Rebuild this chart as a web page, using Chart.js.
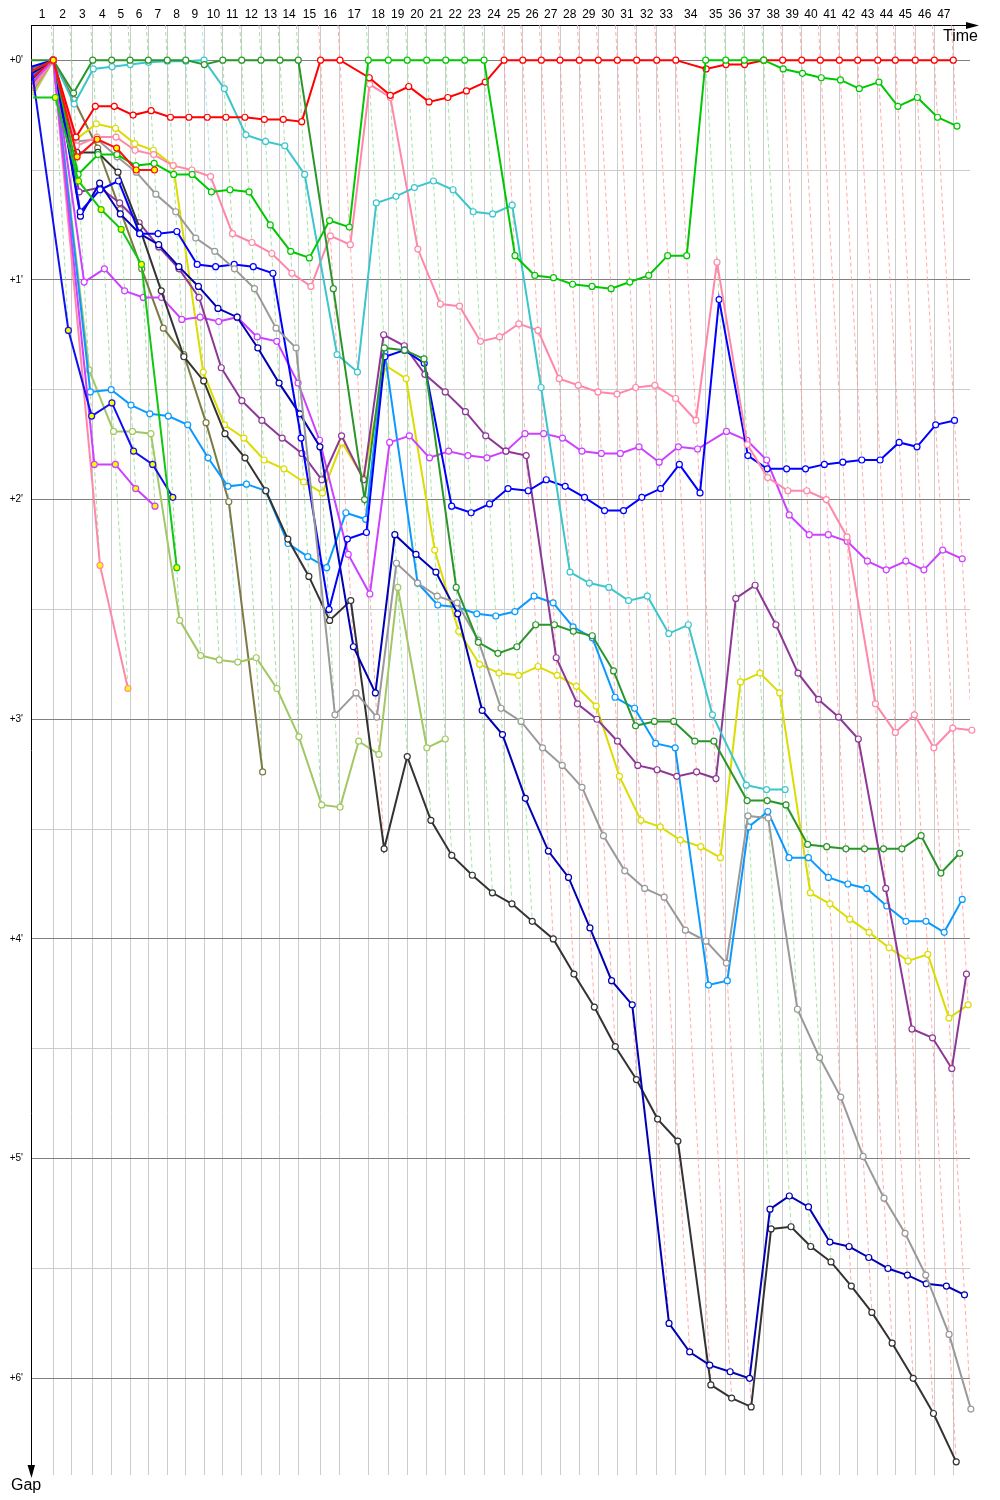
<!DOCTYPE html>
<html>
<head>
<meta charset="utf-8">
<script src="https://cdn.jsdelivr.net/npm/chart.js@4.4.1/dist/chart.umd.min.js"></script>
<style>
  html, body { margin: 0; padding: 0; background: #fff; }
  canvas { display: block; }
</style>
</head>
<body>
<canvas id="gap-chart" width="1000" height="1500"></canvas>
<script>
// ── DATA ──
// leader race time (min) at the end of each lap, index 0 = start
const lapEnds = [0, 1.81, 3.31, 5.02, 6.56, 8.05, 9.54, 11.08, 12.58, 14.07, 15.59, 17.13, 18.70, 20.24, 21.73,
  23.54, 25.12, 27.42, 29.05, 30.59, 32.17, 33.72, 35.26, 36.83, 38.46, 39.98, 41.49, 43.01, 44.58, 46.12,
  47.67, 49.24, 50.87, 52.42, 54.85, 56.48, 57.99, 59.57, 61.11, 62.66, 64.17, 65.72, 67.21, 68.84, 70.27,
  71.89, 73.44, 74.98]

// gap ticks (min), whole minutes get a label
const yTicks = [0, 0.5, 1, 1.5, 2, 2.5, 3, 3.5, 4, 4.5, 5, 5.5, 6]

// gap to leader (min) per lap, index = lap
const gapDarkGreen = [0, 0, 0.15, 0, 0, 0, 0, 0, 0, 0.02, 0, 0, 0, 0, 0, 1.04, 2.0, 1.31, 1.32, 1.36,
  2.4, 2.65, 2.70, 2.67, 2.57, 2.57, 2.6, 2.62, 2.78, 3.03, 3.01, 3.01, 3.10, 3.10, 3.37, 3.37, 3.39,
  3.57, 3.58, 3.59, 3.59, 3.59, 3.59, 3.53, 3.70, 3.61]
const gapGreen = [0.05, 0, 0.52, 0.43, 0.43, 0.48, 0.47, 0.52, 0.52, 0.60, 0.59, 0.60, 0.75, 0.87, 0.90,
  0.73, 0.76, 0, 0, 0, 0, 0, 0, 0, 0.89, 0.98, 0.99, 1.02, 1.03, 1.04, 1.01, 0.98, 0.89, 0.89, 0, 0, 0, 0,
  0.04, 0.06, 0.08, 0.09, 0.13, 0.10, 0.21, 0.17, 0.26, 0.30]
const gapRed = [0.08, 0, 0.35, 0.21, 0.21, 0.25, 0.23, 0.26, 0.26, 0.26, 0.26, 0.26, 0.27, 0.27, 0.28,
  0, 0, 0.08, 0.16, 0.12, 0.19, 0.17, 0.14, 0.10, 0, 0, 0, 0, 0, 0, 0, 0, 0, 0, 0.04, 0.02, 0.02,
  0, 0, 0, 0, 0, 0, 0, 0, 0, 0, 0]
const gapCyan = [0.10, 0, 0.20, 0.04, 0.03, 0.02, 0.01, 0.005, 0.005, 0, 0.13, 0.34, 0.37, 0.39, 0.52,
  1.34, 1.42, 0.65, 0.62, 0.58, 0.55, 0.59, 0.69, 0.70, 0.66, 1.49, 2.33, 2.38, 2.40, 2.46, 2.44, 2.61,
  2.57, 2.98, 3.30, 3.32, 3.32]
const gapPink = [0.12, 0, 0.39, 0.35, 0.35, 0.41, 0.43, 0.48, 0.50, 0.53, 0.79, 0.83, 0.88, 0.97, 1.03,
  0.80, 0.84, 0.11, 0.17, 0.86, 1.11, 1.12, 1.28, 1.26, 1.20, 1.23, 1.45, 1.48, 1.51, 1.52, 1.49, 1.48,
  1.54, 1.64, 0.92, 1.75, 1.90, 1.96, 1.96, 2.0, 2.17, 2.93, 3.06, 2.98, 3.13, 3.04, 3.05]
const gapGray = [0.14, 0, 0.37, 0.36, 0.44, 0.51, 0.61, 0.69, 0.81, 0.87, 0.95, 1.04, 1.22, 1.31, 2.98,
  2.88, 2.99, 2.29, 2.38, 2.44, 2.47, 2.64, 2.95, 3.01, 3.13, 3.21, 3.31, 3.53, 3.69, 3.77, 3.81, 3.96,
  4.01, 4.11, 3.44, 3.45, 4.32, 4.54, 4.72, 4.99, 5.18, 5.34, 5.53, 5.80, 6.14]
const gapBlue = [0.03, 0, 0.69, 0.59, 0.55, 0.79, 0.79, 0.78, 0.93, 0.94, 0.93, 0.94, 0.97, 1.72, 2.50,
  2.18, 2.15, 1.35, 1.32, 1.38, 2.03, 2.06, 2.02, 1.95, 1.96, 1.91, 1.94, 1.99, 2.05, 2.05, 1.99, 1.95,
  1.84, 1.97, 1.09, 1.80, 1.86, 1.86, 1.86, 1.84, 1.83, 1.82, 1.82, 1.74, 1.76, 1.66, 1.64]
const gapNavy = [0.06, 0, 0.71, 0.56, 0.70, 0.79, 0.84, 0.94, 1.03, 1.13, 1.17, 1.31, 1.47, 1.61, 1.76,
  2.67, 2.88, 2.16, 2.25, 2.33, 2.52, 2.96, 3.07, 3.36, 3.60, 3.72, 3.95, 4.19, 4.30, 5.75, 5.88, 5.94,
  5.97, 6.0, 5.23, 5.17, 5.22, 5.38, 5.40, 5.45, 5.50, 5.53, 5.57, 5.58, 5.62]
const gapBlack = [0.09, 0, 0.42, 0.42, 0.51, 0.76, 1.05, 1.35, 1.46, 1.70, 1.81, 1.96, 2.18, 2.35, 2.55,
  2.46, 3.59, 3.17, 3.46, 3.62, 3.71, 3.79, 3.84, 3.92, 4.0, 4.16, 4.31, 4.49, 4.64, 4.82, 4.92, 6.03,
  6.09, 6.13, 5.32, 5.31, 5.40, 5.47, 5.58, 5.70, 5.84, 6.0, 6.16, 6.38]
const gapPurple = [0.11, 0, 0.60, 0.58, 0.65, 0.74, 0.85, 0.95, 1.08, 1.40, 1.55, 1.64, 1.72, 1.79, 1.91,
  1.71, 1.91, 1.25, 1.30, 1.43, 1.51, 1.60, 1.71, 1.78, 1.80, 2.72, 2.93, 3.0, 3.10, 3.21, 3.23, 3.26,
  3.24, 3.27, 2.45, 2.39, 2.57, 2.79, 2.91, 2.99, 3.09, 3.77, 4.41, 4.45, 4.59, 4.16]
const gapViolet = [0.13, 0, 1.01, 0.95, 1.05, 1.08, 1.08, 1.18, 1.17, 1.19, 1.17, 1.26, 1.28, 1.47, 1.73,
  2.25, 2.43, 1.74, 1.71, 1.81, 1.78, 1.80, 1.81, 1.78, 1.70, 1.70, 1.72, 1.78, 1.79, 1.79, 1.76, 1.83,
  1.76, 1.77, 1.69, 1.73, 1.82, 2.07, 2.16, 2.16, 2.19, 2.28, 2.32, 2.28, 2.32, 2.23, 2.27]
const gapSky = [0.07, 0, 1.51, 1.50, 1.57, 1.61, 1.62, 1.66, 1.81, 1.94, 1.93, 1.96, 2.20, 2.26, 2.31,
  2.06, 2.09, 1.33, 2.38, 2.48, 2.49, 2.52, 2.53, 2.51, 2.44, 2.47, 2.58, 2.63, 2.90, 2.95, 3.11, 3.13,
  4.21, 4.19, 3.49, 3.42, 3.63, 3.63, 3.72, 3.75, 3.77, 3.85, 3.92, 3.92, 3.97, 3.82]
const gapYellow = [0.15, 0, 0.36, 0.29, 0.31, 0.38, 0.41, 0.48, 1.42, 1.66, 1.72, 1.82, 1.86, 1.92, 1.97,
  1.74, 1.90, 1.39, 1.45, 2.23, 2.60, 2.75, 2.79, 2.80, 2.76, 2.80, 2.85, 2.94, 3.26, 3.46, 3.49, 3.55,
  3.58, 3.63, 2.83, 2.79, 2.88, 3.79, 3.84, 3.91, 3.97, 4.04, 4.10, 4.07, 4.36, 4.30]
const gapLightOlive = [0.16, 0, 1.41, 1.69, 1.69, 1.70, 2.55, 2.71, 2.73, 2.74, 2.72, 2.86, 3.08, 3.39,
  3.40, 3.10, 3.16, 2.40, 3.13, 3.09]
const gapOlive = [0.04, 0, 0.18, 0.40, 0.68, 0.95, 1.22, 1.34, 1.65, 2.01, 3.24]
// cars that stopped early (yellow markers)
const gapLimeOut = [0.17, 0.17, 0.55, 0.68, 0.77, 0.93, 2.31]
const gapRedOut = [0.05, 0, 0.44, 0.36, 0.40, 0.50, 0.50]
const gapBlueOut = [0.03, 1.23, 1.62, 1.56, 1.78, 1.84, 1.99]
const gapVioletOut = [0.10, 0, 1.84, 1.84, 1.95, 2.03]
const gapPinkOut = [0.13, 0, 2.30, 2.86]

const series = [
  { gaps: gapDarkGreen, color: '#2a962a', lap: 'rgba(140,215,140,0.8)' },
  { gaps: gapGreen, color: '#00c800', lap: 'rgba(140,225,140,0.8)' },
  { gaps: gapRed, color: '#ff0000', lap: 'rgba(255,150,150,0.8)' },
  { gaps: gapCyan, color: '#3cc6cc', lap: 'rgba(150,225,240,0.8)' },
  { gaps: gapPink, color: '#ff88a8' },
  { gaps: gapGray, color: '#999999' },
  { gaps: gapBlue, color: '#0000ff' },
  { gaps: gapNavy, color: '#0000b4' },
  { gaps: gapBlack, color: '#333333' },
  { gaps: gapPurple, color: '#8e3896' },
  { gaps: gapViolet, color: '#cc40ff' },
  { gaps: gapSky, color: '#0a9aff' },
  { gaps: gapYellow, color: '#dcdc00' },
  { gaps: gapLightOlive, color: '#a2c864' },
  { gaps: gapOlive, color: '#7c7a44' },
  { gaps: gapLimeOut, color: '#10c810', out: true },
  { gaps: gapRedOut, color: '#ff1010', out: true },
  { gaps: gapBlueOut, color: '#1010f0', out: true },
  { gaps: gapVioletOut, color: '#cc40ff', out: true },
  { gaps: gapPinkOut, color: '#ff88a8', out: true }
]

// ── AXES RANGE ──
const Y_MIN = -0.16
const Y_MAX = 6.44
const X_MAX = 76.34

const lapMids = lapEnds.slice(1).map((t, i) => (lapEnds[i] + t) / 2)

// ── DATASETS ──
function carSets() {
  return series.map(s => ({
    data: s.gaps.map((g, n) => ({ x: lapEnds[n] + g, y: g })),
    borderColor: s.color,
    borderWidth: 2,
    // no marker on the start line (lap 0)
    pointRadius: s.gaps.map((g, n) => n === 0 ? 0 : 3),
    pointHoverRadius: 3,
    pointBorderWidth: 1.2,
    pointBorderColor: s.color,
    pointBackgroundColor: s.out ? '#ffff00' : '#ffffff',
    tension: 0,
    clip: { left: 0, top: 6, right: 6, bottom: 6 },
    order: s.out ? -1 : 0
  }))
}

// one dashed line per lap through every car's point on that lap, tinted after the leader
function lapSets() {
  const out = []
  for (let n = 1; n < lapEnds.length; n++) {
    let lead = null
    let gMax = 0
    series.forEach(s => {
      const g = s.gaps[n]
      if (g == null) return
      if (!lead || g < lead.gaps[n]) lead = s
      if (g > gMax) gMax = g
    })
    if (!lead) continue
    out.push({
      data: [{ x: lapEnds[n] + Y_MIN, y: Y_MIN }, { x: lapEnds[n] + gMax, y: gMax }],
      borderColor: lead.lap || 'rgba(200,200,200,0.8)',
      borderWidth: 1,
      borderDash: [4, 3],
      pointRadius: 0,
      order: 10
    })
  }
  return out
}

// ── ARROWS + AXIS NAMES ──
const axisDecor = {
  id: 'axisDecor',
  afterDraw(chart) {
    const { ctx, chartArea } = chart
    const top = chartArea.top
    const left = chartArea.left
    ctx.save()
    ctx.strokeStyle = '#000'
    ctx.fillStyle = '#000'
    ctx.lineWidth = 1
    ctx.beginPath()
    ctx.moveTo(chartArea.right, top + 0.5)
    ctx.lineTo(968, top + 0.5)
    ctx.stroke()
    ctx.beginPath()
    ctx.moveTo(966, top - 3)
    ctx.lineTo(979, top + 0.5)
    ctx.lineTo(966, top + 4)
    ctx.closePath()
    ctx.fill()
    ctx.beginPath()
    ctx.moveTo(left - 3.5, chartArea.bottom - 10)
    ctx.lineTo(left + 0.5, chartArea.bottom + 3)
    ctx.lineTo(left + 4, chartArea.bottom - 10)
    ctx.closePath()
    ctx.fill()
    ctx.font = '16px "Liberation Sans", Arial, sans-serif'
    ctx.textBaseline = 'alphabetic'
    ctx.textAlign = 'right'
    ctx.fillText('Time', 978, 41)
    ctx.textAlign = 'left'
    ctx.fillText('Gap', 11, 1490)
    ctx.restore()
  }
}

const whiteBg = {
  id: 'whiteBg',
  beforeDraw(chart) {
    const { ctx, width, height } = chart
    ctx.save()
    ctx.fillStyle = '#fff'
    ctx.fillRect(0, 0, width, height)
    ctx.restore()
  }
}

// ── CHART ──
new Chart(document.getElementById('gap-chart'), {
  type: 'line',
  data: { datasets: [...carSets(), ...lapSets()] },
  plugins: [whiteBg, axisDecor],
  options: {
    responsive: false,
    animation: false,
    layout: { padding: { left: 0, top: 0, right: 30, bottom: 25 } },
    plugins: { legend: { display: false }, tooltip: { enabled: false } },
    scales: {
      x: {
        type: 'linear',
        position: 'top',
        min: 0,
        max: X_MAX,
        afterBuildTicks: s => { s.ticks = lapMids.map(v => ({ value: v })) },
        afterFit: s => { s.height = 25 },
        grid: { display: false, drawTicks: false },
        border: { display: true, color: '#000', width: 1 },
        ticks: {
          autoSkip: false,
          maxRotation: 0,
          padding: 3,
          color: '#000',
          font: { family: 'Liberation Sans', size: 12 },
          callback: (v, i) => String(i + 1)
        }
      },
      xg: {
        type: 'linear',
        position: 'bottom',
        min: 0,
        max: X_MAX,
        afterBuildTicks: s => { s.ticks = lapEnds.slice(1).map(v => ({ value: v })) },
        afterFit: s => { s.height = 0 },
        grid: { color: '#cccccc', drawTicks: false },
        border: { display: false },
        ticks: { display: false }
      },
      y: {
        type: 'linear',
        reverse: true,
        min: Y_MIN,
        max: Y_MAX,
        afterBuildTicks: s => { s.ticks = yTicks.map(v => ({ value: v })) },
        afterFit: s => { s.width = 31 },
        grid: {
          color: c => (c.tick && c.tick.value % 1 === 0) ? '#808080' : '#cccccc',
          drawTicks: false
        },
        border: { display: true, color: '#000', width: 1 },
        ticks: {
          padding: 8,
          color: '#000',
          font: { family: 'Liberation Sans', size: 10 },
          callback: v => v % 1 === 0 ? `+${v}'` : ''
        }
      }
    }
  }
})
</script>
</body>
</html>
